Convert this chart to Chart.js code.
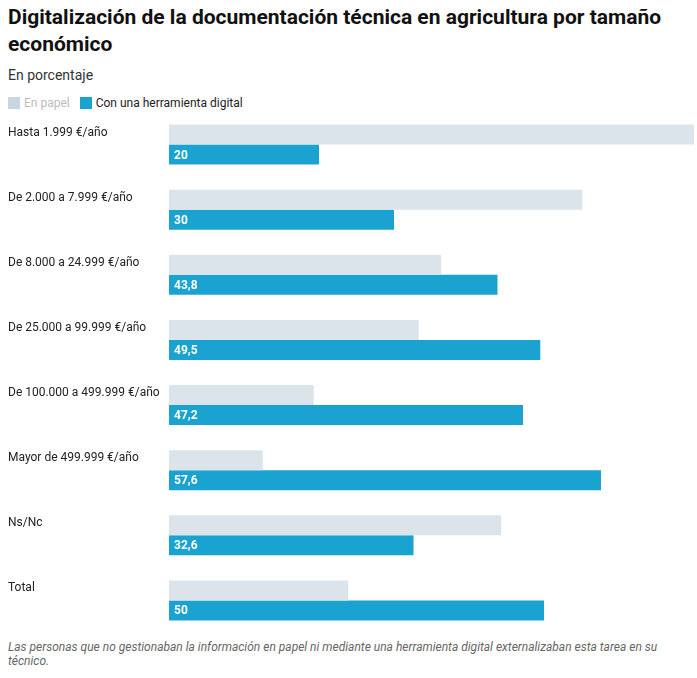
<!DOCTYPE html>
<html><head><meta charset="utf-8">
<script src="https://cdn.jsdelivr.net/npm/chart.js@4"></script>
<style>
body{margin:0;font-family:Roboto,sans-serif;width:697px;height:678px;position:relative;overflow:hidden;background:#fff}
h1{position:absolute;left:8px;top:4px;margin:0;font-size:21px;line-height:27px;font-weight:700;color:#111;width:690px}
.sub{position:absolute;left:8px;top:67px;font-size:14px;color:#333}
.leg{position:absolute;left:8px;top:96px;font-size:12px;color:#222;display:flex;align-items:center}
.leg i{display:inline-block;width:12px;height:12px;margin-right:4px}
.foot{position:absolute;left:8px;top:640px;font-size:12px;font-style:italic;color:#666;width:670px;line-height:14px}
#wrap{position:absolute;left:0;top:112px;width:697px;height:521px}
</style></head><body>
<h1>Digitalización de la documentación técnica en agricultura por tamaño económico</h1>
<div class="sub">En porcentaje</div>
<div class="leg"><i style="background:#c9d6df"></i><span style="color:#bbb;margin-right:10px">En papel</span><i style="background:#1aa3d0"></i>Con una herramienta digital</div>
<div id="wrap"><canvas id="c"></canvas></div>
<div class="foot">Las personas que no gestionaban la información en papel ni mediante una herramienta digital externalizaban esta tarea en su técnico.</div>
<script>
const categories = ['Hasta 1.999 €/año','De 2.000 a 7.999 €/año','De 8.000 a 24.999 €/año','De 25.000 a 99.999 €/año','De 100.000 a 499.999 €/año','Mayor de 499.999 €/año','Ns/Nc','Total'];
const paper = [70, 55.1, 36.3, 33.3, 19.3, 12.5, 44.3, 23.9];
const digital = [20, 30, 43.8, 49.5, 47.2, 57.6, 32.6, 50];

const labelsPlugin = {
  id: 'labels',
  afterDatasetsDraw(chart) {
    const ctx = chart.ctx;
    ctx.save();
    ctx.font = '12px Roboto, sans-serif';
    ctx.fillStyle = '#222';
    ctx.textBaseline = 'middle';
    const m0 = chart.getDatasetMeta(0);
    m0.data.forEach((b, i) => ctx.fillText(categories[i], 8, b.y - 2));
    ctx.font = 'bold 12px Roboto, sans-serif';
    ctx.fillStyle = '#fff';
    chart.getDatasetMeta(1).data.forEach((b, i) =>
      ctx.fillText(String(digital[i]).replace('.', ','), b.base + 5, b.y + 1));
    ctx.restore();
  }
};

new Chart(document.getElementById('c'), {
  type: 'bar',
  data: {
    labels: categories,
    datasets: [
      { label: 'En papel', data: paper, backgroundColor: '#dae4ea' },
      { label: 'Con una herramienta digital', data: digital, backgroundColor: '#1aa3d0' }
    ]
  },
  options: {
    indexAxis: 'y',
    responsive: true, maintainAspectRatio: false, animation: false,
    categoryPercentage: 40 / 65, barPercentage: 1,
    layout: { padding: { left: 169, right: 3, top: 0, bottom: 0 } },
    plugins: { legend: { display: false }, tooltip: { enabled: false } },
    scales: {
      x: { display: false, min: 0, max: 70 },
      y: { display: false }
    }
  },
  plugins: [labelsPlugin]
});
</script>
</body></html>
